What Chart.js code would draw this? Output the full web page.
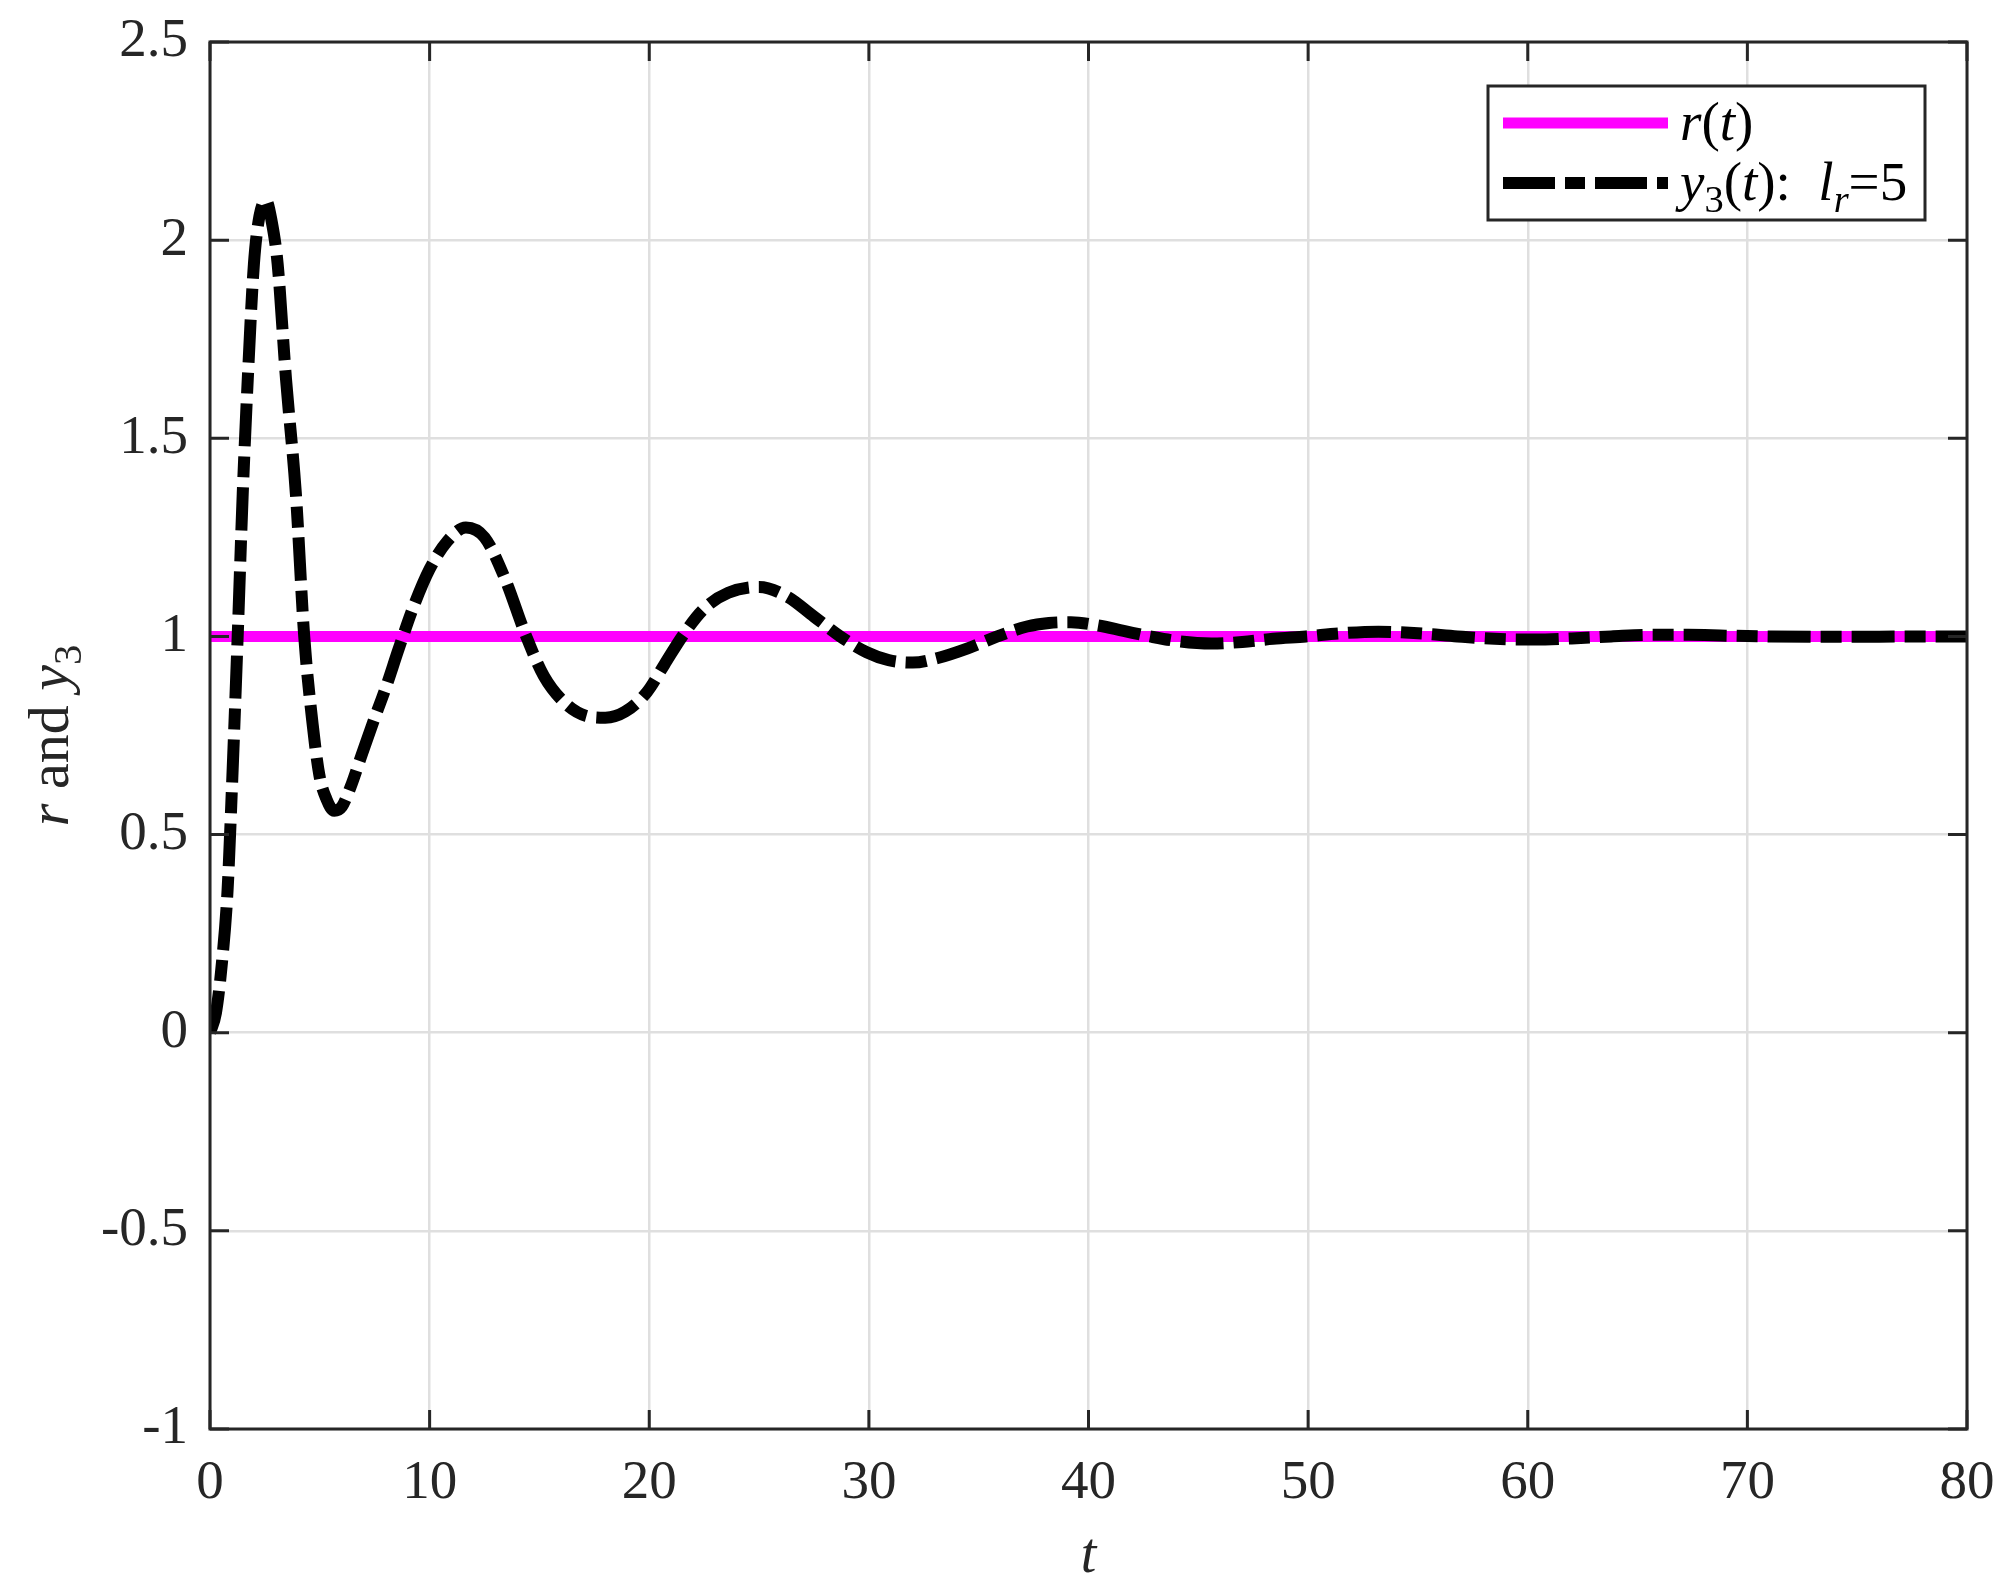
<!DOCTYPE html>
<html>
<head>
<meta charset="utf-8">
<script src="https://cdn.jsdelivr.net/npm/chart.js@4.4.1/dist/chart.umd.min.js"></script>
<style>
  html, body { margin: 0; padding: 0; background: #ffffff; }
  #wrap { width: 2009px; height: 1592px; position: relative; }
  canvas { display: block; }
</style>
</head>
<body>
<div id="wrap"><canvas id="c" width="2009" height="1592"></canvas></div>
<script>
// ---- data ----
const tValues = [0, 0.27, 0.55, 0.8, 1.0, 1.26, 1.49, 1.72, 2.0, 2.25, 2.55, 2.8, 3.08, 3.46, 3.91, 4.29, 4.67, 4.98, 5.3, 5.66, 6.0, 6.4, 6.9, 7.47, 8.0, 8.6, 9.3, 10.0, 10.8, 11.65, 12.5, 13.4, 14.4, 15.2, 16.2, 17.1, 18.0, 18.9, 19.9, 20.7, 21.5, 22.5, 23.6, 25.0, 26.3, 27.5, 28.7, 29.9, 30.9, 32.0, 33.1, 34.5, 35.85, 37.2, 38.2, 39.2, 40.4, 41.6, 42.8, 44.2, 45.6, 47.0, 48.4, 49.9, 51.5, 53.2, 55.0, 56.8, 58.5, 60.3, 62.0, 63.8, 65.5, 67.3, 69.0, 71.0, 73.0, 75.0, 77.0, 80.0];
const y3Values = [0, 0.05, 0.18, 0.36, 0.62, 1.0, 1.36, 1.65, 1.94, 2.06, 2.10, 2.05, 1.94, 1.65, 1.36, 1.0, 0.78, 0.65, 0.59, 0.56, 0.57, 0.62, 0.70, 0.79, 0.87, 0.97, 1.08, 1.17, 1.24, 1.275, 1.25, 1.15, 1.0, 0.90, 0.83, 0.80, 0.795, 0.81, 0.86, 0.93, 1.0, 1.07, 1.11, 1.125, 1.10, 1.05, 1.0, 0.96, 0.94, 0.934, 0.945, 0.97, 1.0, 1.025, 1.034, 1.036, 1.028, 1.014, 1.0, 0.987, 0.982, 0.986, 0.994, 1.0, 1.008, 1.012, 1.008, 1.0, 0.994, 0.992, 0.995, 1.0, 1.004, 1.004, 1.002, 1.0, 0.999, 0.999, 1.0, 1.0];
const refT = [0, 80];
const refValues = [1, 1];
const xTickValues = [0, 10, 20, 30, 40, 50, 60, 70, 80];
const yTickValues = [-1, -0.5, 0, 0.5, 1, 1.5, 2, 2.5];
const legendLabels = ['r(t)', 'y3(t): lr=5'];

// ---- styling ----
const FONT = '"Liberation Serif", "Times New Roman", serif';
const AXIS_COLOR = '#262626';
const GRID_COLOR = '#dfdfdf';
const MAGENTA = '#ff00ff';
const DASH = [43, 10, 21, 10];

function toPoints(xs, ys) { return xs.map((x, i) => ({ x: x, y: ys[i] })); }

// rich text helper: segments {t, i (italic), sub}
function richWidth(ctx, segs, size) {
  let w = 0;
  for (const s of segs) {
    const sz = s.sub ? size * 0.7 : size;
    ctx.font = (s.i ? 'italic ' : '') + sz + 'px ' + FONT;
    w += ctx.measureText(s.t).width;
  }
  return w;
}
function drawRich(ctx, segs, x, y, size, align) {
  const w = richWidth(ctx, segs, size);
  let cx = align === 'center' ? x - w / 2 : (align === 'right' ? x - w : x);
  ctx.textBaseline = 'alphabetic';
  ctx.textAlign = 'left';
  for (const s of segs) {
    const sz = s.sub ? size * 0.7 : size;
    ctx.font = (s.i ? 'italic ' : '') + sz + 'px ' + FONT;
    ctx.fillText(s.t, cx, s.sub ? y + size * 0.22 : y);
    cx += ctx.measureText(s.t).width;
  }
}

const framePlugin = {
  id: 'frame',
  afterDatasetsDraw(chart) {
    const ctx = chart.ctx;
    const a = chart.chartArea;
    const xs = chart.scales.x, ys = chart.scales.y;
    ctx.save();
    ctx.strokeStyle = AXIS_COLOR;
    ctx.lineWidth = 3;
    ctx.lineCap = 'butt';
    const tl = 19;
    ctx.beginPath();
    for (const v of xTickValues) {
      const px = xs.getPixelForValue(v);
      ctx.moveTo(px, a.bottom); ctx.lineTo(px, a.bottom - tl);
      ctx.moveTo(px, a.top); ctx.lineTo(px, a.top + tl);
    }
    for (const v of yTickValues) {
      const py = ys.getPixelForValue(v);
      ctx.moveTo(a.left, py); ctx.lineTo(a.left + tl, py);
      ctx.moveTo(a.right, py); ctx.lineTo(a.right - tl, py);
    }
    ctx.stroke();
    ctx.strokeRect(a.left, a.top, a.right - a.left, a.bottom - a.top);
    ctx.restore();
  },
  afterDraw(chart) {
    const ctx = chart.ctx;
    const a = chart.chartArea;
    ctx.save();
    ctx.fillStyle = AXIS_COLOR;
    // x title
    drawRich(ctx, [{ t: 't', i: true }], (a.left + a.right) / 2, 1572, 56, 'center');
    // y title
    ctx.translate(68, (a.top + a.bottom) / 2);
    ctx.rotate(-Math.PI / 2);
    drawRich(ctx, [{ t: 'r', i: true }, { t: ' and ' }, { t: 'y', i: true }, { t: '3', sub: true }], 0, 0, 58, 'center');
    ctx.restore();

    // legend
    ctx.save();
    const bx = a.right - 42 - 437, by = a.top + 44, bw = 437, bh = 134;
    ctx.fillStyle = '#ffffff';
    ctx.fillRect(bx, by, bw, bh);
    ctx.strokeStyle = AXIS_COLOR;
    ctx.lineWidth = 3;
    ctx.strokeRect(bx, by, bw, bh);
    const rows = [
      { color: MAGENTA, dash: [], width: 11,
        segs: [{ t: 'r', i: true }, { t: '(' }, { t: 't', i: true }, { t: ')' }] },
      { color: '#000000', dash: [52, 10, 20, 10], width: 12,
        segs: [{ t: 'y', i: true }, { t: '3', sub: true }, { t: '(' }, { t: 't', i: true }, { t: '):  ' },
               { t: 'l', i: true }, { t: 'r', i: true, sub: true }, { t: '=5' }] }
    ];
    rows.forEach((r, k) => {
      const cy = by + 37 + k * 60;
      ctx.beginPath();
      ctx.strokeStyle = r.color;
      ctx.lineWidth = r.width;
      ctx.setLineDash(r.dash);
      ctx.moveTo(bx + 15, cy);
      ctx.lineTo(bx + 180, cy);
      ctx.stroke();
      ctx.setLineDash([]);
      ctx.fillStyle = '#000000';
      drawRich(ctx, r.segs, bx + 192, cy + 17, 55, 'left');
    });
    ctx.restore();
  }
};

const chart = new Chart(document.getElementById('c'), {
  type: 'line',
  data: {
    datasets: [
      {
        label: legendLabels[0],
        data: toPoints(refT, refValues),
        borderColor: MAGENTA,
        borderWidth: 11,
        pointRadius: 0,
        fill: false,
        order: 2
      },
      {
        label: legendLabels[1],
        data: toPoints(tValues, y3Values),
        borderColor: '#000000',
        borderWidth: 12,
        borderDash: DASH,
        pointRadius: 0,
        fill: false,
        cubicInterpolationMode: 'monotone',
        order: 1
      }
    ]
  },
  options: {
    responsive: false,
    devicePixelRatio: 1,
    animation: false,
    layout: { padding: { left: 0, top: 42, right: 42, bottom: 0 } },
    plugins: { legend: { display: false }, tooltip: { enabled: false }, title: { display: false } },
    scales: {
      x: {
        type: 'linear',
        min: 0, max: 80,
        afterFit(s) { s.height = 163; s.paddingLeft = 0; s.paddingRight = 0; },
        afterBuildTicks(s) { s.ticks = xTickValues.map(v => ({ value: v })); },
        ticks: { color: AXIS_COLOR, font: { family: FONT, size: 55 }, padding: 22, maxRotation: 0, autoSkip: false },
        grid: { color: GRID_COLOR, lineWidth: 2.5, drawTicks: false },
        border: { display: false }
      },
      y: {
        type: 'linear',
        min: -1, max: 2.5,
        afterFit(s) { s.width = 210; s.paddingTop = 0; s.paddingBottom = 0; },
        afterBuildTicks(s) { s.ticks = yTickValues.map(v => ({ value: v })); },
        ticks: { color: AXIS_COLOR, font: { family: FONT, size: 55 }, padding: 22, autoSkip: false,
                 callback: v => String(v) },
        grid: { color: GRID_COLOR, lineWidth: 2.5, drawTicks: false },
        border: { display: false }
      }
    }
  },
  plugins: [framePlugin]
});
</script>
</body>
</html>
